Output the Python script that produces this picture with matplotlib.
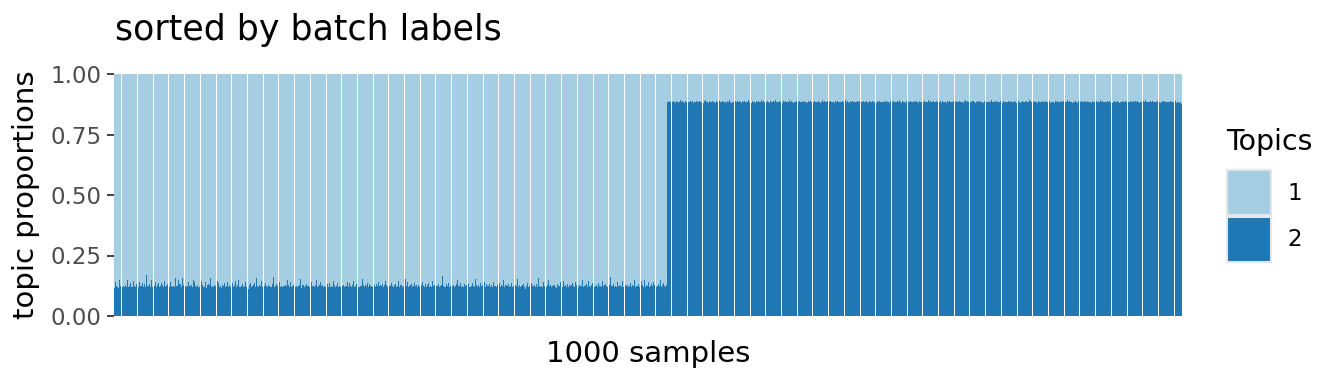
import numpy as np
import matplotlib.pyplot as plt
from matplotlib.patches import Rectangle

# topic 2 proportions (x1000), samples sorted by batch label
batch1_topic2 = [
    116, 141, 126, 121, 117, 150, 122, 120, 124, 118,
    129, 121, 150, 119, 122, 137, 121, 118, 143, 125,
    119, 133, 120, 141, 125, 123, 138, 120, 132, 118,
    168, 124, 122, 133, 121, 147, 119, 123, 142, 121,
    128, 137, 119, 122, 135, 130, 120, 143, 126, 124,
    132, 121, 139, 125, 119, 123, 120, 158, 126, 123,
    148, 131, 134, 120, 155, 129, 122, 118, 126, 141,
    123, 125, 130, 118, 149, 139, 125, 120, 129, 118,
    121, 146, 130, 121, 120, 139, 117, 128, 131, 127,
    156, 120, 124, 121, 129, 122, 143, 135, 118, 122,
    115, 130, 126, 138, 119, 124, 140, 119, 127, 121,
    137, 121, 128, 143, 121, 127, 148, 118, 121, 125,
    132, 119, 123, 139, 120, 113, 127, 138, 121, 122,
    130, 136, 121, 158, 122, 119, 128, 124, 146, 121,
    125, 136, 122, 120, 128, 124, 119, 121, 133, 160,
    120, 122, 131, 126, 139, 121, 124, 119, 126, 122,
    130, 122, 147, 127, 120, 142, 118, 124, 128, 121,
    125, 119, 125, 127, 151, 117, 129, 128, 121, 123,
    131, 126, 122, 120, 142, 122, 124, 119, 127, 149,
    121, 126, 127, 140, 122, 129, 120, 123, 119, 132,
    120, 136, 118, 124, 121, 145, 127, 121, 124, 138,
    121, 122, 119, 126, 130, 119, 125, 122, 141, 120,
    135, 124, 120, 128, 146, 121, 124, 133, 119, 118,
    126, 122, 154, 129, 121, 128, 124, 137, 120, 131,
    123, 124, 121, 128, 119, 131, 126, 140, 122, 127,
    122, 134, 121, 129, 143, 130, 120, 125, 122, 136,
    124, 119, 127, 132, 120, 124, 146, 121, 127, 129,
    119, 124, 153, 122, 139, 118, 124, 128, 131, 121,
    126, 138, 123, 129, 121, 130, 120, 127, 142, 124,
    121, 131, 119, 128, 135, 121, 125, 119, 144, 126,
    128, 124, 123, 132, 120, 124, 127, 165, 123, 121,
    118, 132, 126, 137, 120, 124, 122, 130, 118, 125,
    131, 149, 122, 125, 138, 119, 124, 120, 131, 126,
    128, 133, 121, 119, 124, 138, 122, 120, 151, 127,
    121, 129, 120, 137, 125, 128, 141, 119, 131, 122,
    123, 134, 120, 127, 121, 139, 126, 122, 119, 129,
    136, 121, 128, 124, 149, 120, 129, 127, 122, 133,
    119, 125, 138, 121, 122, 129, 124, 152, 120, 127,
    121, 124, 128, 134, 120, 112, 126, 137, 119, 123,
    136, 124, 122, 128, 121, 131, 119, 158, 123, 120,
    126, 121, 140, 124, 119, 127, 148, 122, 129, 121,
    124, 128, 130, 121, 117, 132, 126, 123, 139, 121,
    145, 124, 127, 121, 133, 120, 129, 122, 128, 136,
    124, 121, 140, 128, 119, 130, 123, 126, 149, 120,
    122, 127, 131, 120, 145, 123, 121, 128, 137, 119,
    126, 130, 118, 135, 122, 126, 121, 146, 124, 127,
    133, 124, 120, 128, 160, 122, 125, 131, 120, 123,
    121, 139, 126, 122, 129, 121, 144, 120, 127, 124,
    130, 121, 124, 135, 119, 127, 123, 148, 121, 126,
    124, 132, 120, 143, 127, 121, 150, 119, 128, 123,
    139, 121, 126, 131, 124, 142, 127, 120,
    125, 131, 122, 147, 120, 128, 136, 124, 121, 129,
]

batch2_topic2 = [
    885, 884, 887, 883, 886, 889, 884, 882, 888, 885,
    886, 883, 892, 884, 887, 885, 881, 888, 884, 886,
    883, 887, 885, 889, 882, 886, 884, 890, 883, 885,
    888, 884, 886, 882, 887, 893, 884, 886, 881, 889,
    885, 883, 888, 884, 886, 882, 890, 885, 887, 883,
    884, 889, 883, 886, 885, 881, 887, 884, 892, 886,
    882, 886, 884, 888, 883, 887, 885, 889, 884, 882,
    890, 885, 887, 883, 886, 884, 893, 885, 882, 888,
    884, 886, 882, 889, 885, 887, 883, 886, 891, 884,
    887, 883, 885, 888, 884, 882, 889, 886, 884, 887,
    885, 891, 884, 886, 883, 888, 885, 882, 887, 884,
    889, 884, 886, 883, 892, 885, 887, 884, 881, 886,
    884, 887, 885, 889, 883, 886, 884, 888, 885, 883,
    886, 882, 890, 884, 887, 885, 883, 889, 884, 886,
    883, 888, 885, 882, 886, 891, 884, 887, 883, 885,
    887, 884, 889, 885, 883, 886, 882, 888, 884, 890,
    885, 883, 886, 884, 888, 885, 892, 883, 887, 884,
    882, 887, 884, 889, 885, 883, 886, 884, 888, 885,
    889, 885, 883, 887, 884, 886, 890, 882, 885, 887,
    884, 886, 888, 883, 885, 881, 887, 884, 889, 886,
    886, 883, 885, 890, 884, 887, 883, 886, 882, 888,
    885, 889, 884, 886, 883, 888, 885, 891, 884, 882,
    887, 884, 886, 882, 889, 885, 883, 887, 884, 886,
    883, 888, 885, 887, 884, 882, 890, 885, 886, 884,
    888, 885, 883, 886, 893, 884, 887, 883, 885, 889,
    884, 886, 889, 883, 885, 887, 882, 888, 884, 886,
    885, 882, 887, 884, 890, 886, 883, 885, 888, 884,
    887, 884, 885, 889, 883, 886, 884, 882, 887, 891,
    884, 888, 883, 886, 885, 887, 889, 884, 882, 886,
    889, 885, 887, 883, 884, 886, 882, 888, 885, 884,
    883, 886, 884, 891, 885, 883, 887, 884, 889, 885,
    886, 884, 888, 882, 887, 885, 884, 886, 883, 890,
    885, 887, 883, 886, 884, 889, 885, 882, 888, 884,
    882, 885, 889, 884, 886, 883, 887, 885, 884, 892,
    887, 883, 885, 888, 884, 886, 882, 889, 885, 883,
    884, 890, 886, 883, 887, 885, 884, 888, 882, 886,
    886, 884, 882, 887, 885, 889, 883, 886, 884, 888,
    885, 888, 884, 886, 891, 883, 887, 884, 885, 882,
    883, 886, 887, 884, 882, 888, 885, 890, 884, 886,
    888, 884, 885, 889, 883, 886, 884, 882, 887, 885,
    884, 887, 883, 886, 885, 892, 884, 888, 883, 886,
    886, 883, 888, 884, 887, 885, 882, 886, 889, 884,
    885, 889, 884, 882, 886, 884, 887, 883, 885, 890,
    883, 885, 886, 888, 884, 883, 889, 885, 887, 884,
    887, 884, 882, 886, 885, 888, 884, 891, 883, 885,
    884, 886, 889, 883, 887, 885, 883, 886, 884, 888,
    886, 882, 885, 887, 884, 890, 886, 883, 885, 884,
    885, 888, 883, 886, 884, 887, 882, 885, 884, 880,
    884, 876,
]

topic_labels = ["1", "2"]
topic_colors = ["#A6CEE3", "#1F78B4"]

topic2 = np.array(batch1_topic2 + batch2_topic2) / 1000
topic1 = 1 - topic2
n = len(topic2)
x = np.arange(n)

W, H = 1344, 384
fig = plt.figure(figsize=(W / 100, H / 100), dpi=100)
ax = fig.add_axes([114 / W, 1 - 316 / H, (1182 - 114) / W, (316 - 74) / H])

ax.bar(x, topic2, width=0.94, color=topic_colors[1], linewidth=0, antialiased=False)
ax.bar(x, topic1, bottom=topic2, width=0.94, color=topic_colors[0], linewidth=0,
       antialiased=False)

ax.set_xlim(-0.5, n - 0.5)
ax.set_ylim(0, 1)
ax.set_yticks([0, 0.25, 0.5, 0.75, 1.0])
ax.set_yticklabels(["0.00", "0.25", "0.50", "0.75", "1.00"])
ax.set_xticks([])
ax.tick_params(axis="y", length=5, width=1.3, color="#333333", labelsize=16.5,
               labelcolor="#4D4D4D", pad=4)
for s in ax.spines.values():
    s.set_visible(False)

fig.text(648 / W, 1 - 354 / H, f"{n} samples", fontsize=21, ha="center", va="center")
fig.text(26 / W, 1 - 195 / H, "topic proportions", fontsize=21, rotation=90,
         ha="center", va="center")
fig.text(115 / W, 1 - 30 / H, "sorted by batch labels", fontsize=25,
         ha="left", va="center")

# legend
fig.text(1226 / W, 1 - 142 / H, "Topics", fontsize=20.5, ha="left", va="center")
for i, (lab, col) in enumerate(zip(topic_labels, topic_colors)):
    y0 = 170 + i * 46.5
    fig.add_artist(Rectangle((1227 / W, 1 - (y0 + 45) / H), 44 / W, 45 / H,
                             transform=fig.transFigure, facecolor=col,
                             edgecolor="#E5E5E5", linewidth=1.5))
    fig.text(1287 / W, 1 - (y0 + 23) / H, lab, fontsize=16.5, ha="left", va="center")

fig.savefig("out.png", dpi=100)
